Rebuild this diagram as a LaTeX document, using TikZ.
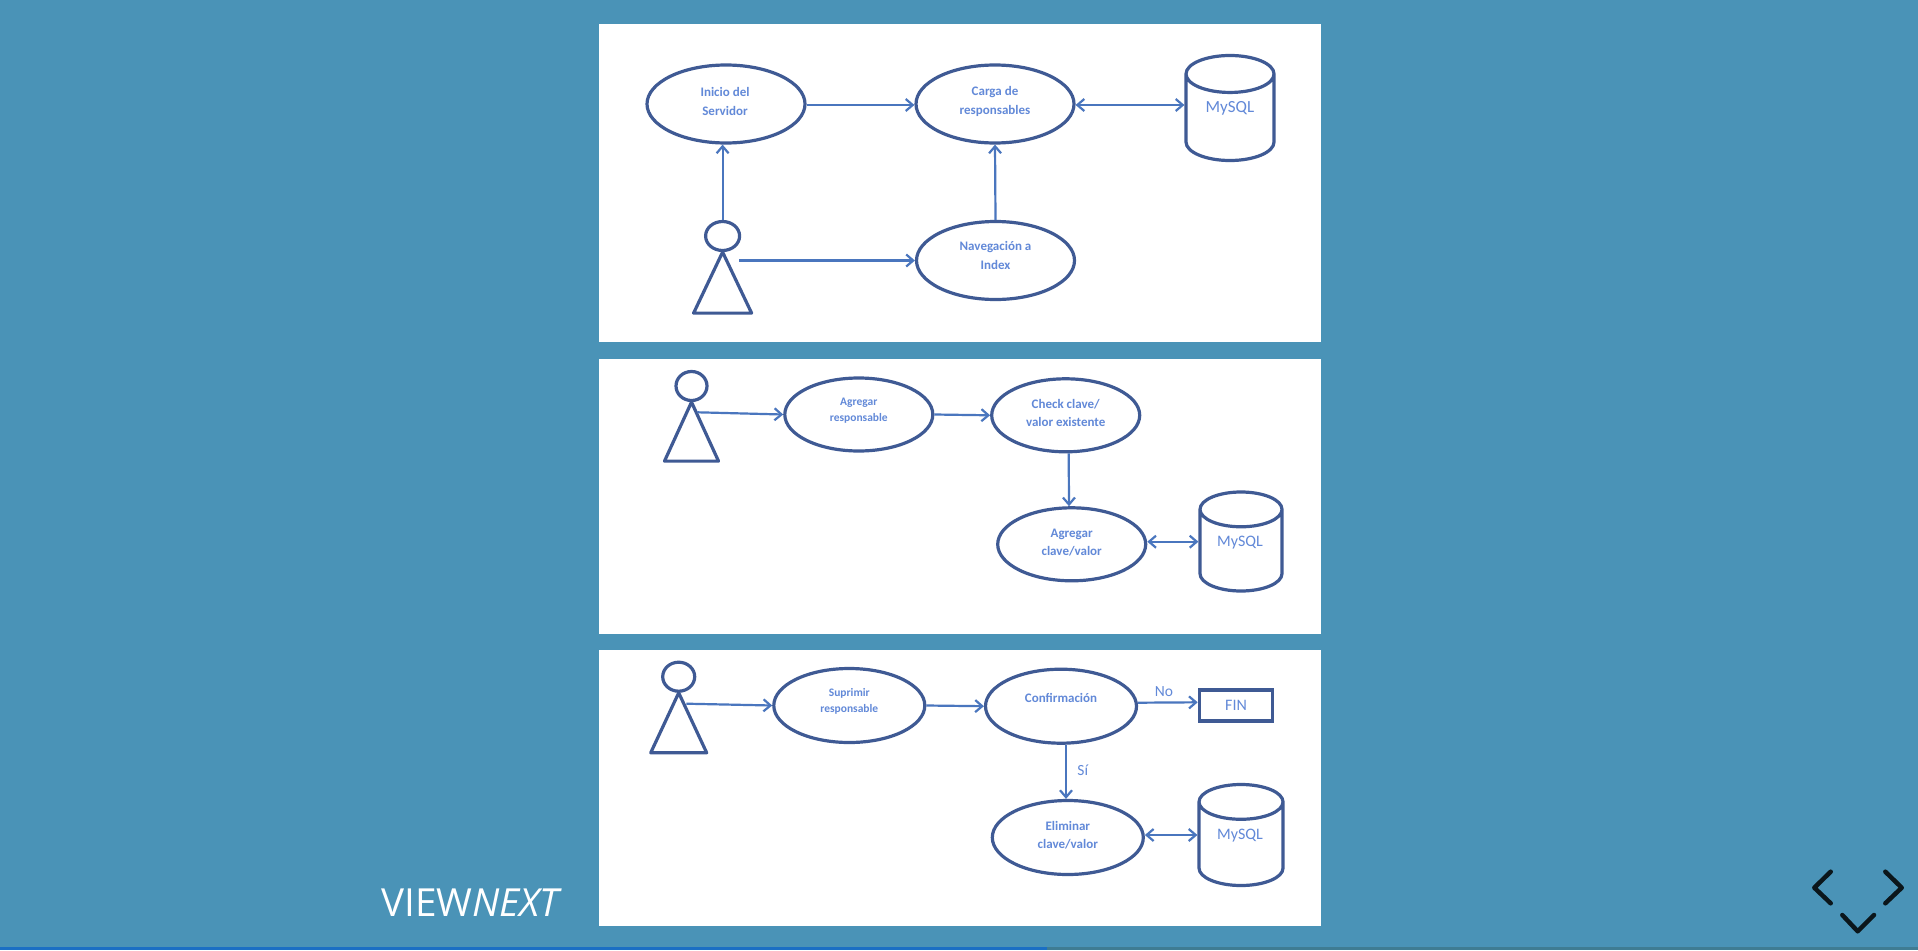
\documentclass[tikz,border=0pt]{standalone}
\usepackage{fontspec}
\setmainfont{Carlito}
\newfontfamily\brandfont{Open Sans}
\usetikzlibrary{arrows.meta,shapes.geometric}

\definecolor{slidebg}{HTML}{4A93B7}
\definecolor{shapeline}{HTML}{3F5A94}
\definecolor{connline}{HTML}{4A76BE}
\definecolor{labeltext}{HTML}{6289D8}
\definecolor{barblue}{HTML}{1B6FC4}
\definecolor{barteal}{HTML}{3F7C93}

\begin{document}
\begin{tikzpicture}[
  x=1pt, y=-1pt,
  usecase/.style={draw=shapeline, line width=3.2pt, ellipse, fill=white, inner sep=0pt, minimum width=158pt, minimum height=78pt},
  smallcase/.style={usecase, minimum width=148pt, minimum height=73pt},
  thirdcase/.style={usecase, minimum width=151pt, minimum height=74pt},
  head/.style={draw=shapeline, line width=3.2pt, ellipse, inner sep=0pt, minimum width=#1pt, minimum height=29pt},
  body/.style={draw=shapeline, line width=3.2pt, line join=round},
  db/.style={draw=shapeline, line width=3.2pt, cylinder, shape border rotate=90, aspect=.76, inner sep=0pt, anchor=shape center, font=\fontsize{#1}{20}\selectfont},
  dbtext/.style={text=labeltext, inner sep=0pt, font=\fontsize{#1}{20}\selectfont},
  arrow/.style={connline, line width=2.2pt, -{Straight Barb[length=7pt,width=12pt]}},
  twoway/.style={connline, line width=2.2pt, {Straight Barb[length=7pt,width=12pt]}-{Straight Barb[length=7pt,width=12pt]}},
  casetext/.style={font=\fontsize{13}{18.5}\selectfont\bfseries, text=labeltext, align=center},
  casesmall/.style={font=\fontsize{11.5}{16}\selectfont\bfseries, text=labeltext, align=center},
  condtext/.style={font=\fontsize{15.5}{18}\selectfont, text=labeltext},
  nav/.style={draw=black!85!slidebg, line width=4.5pt, line cap=round, line join=round}
]
  % Slide
  \fill[slidebg] (0,0) rectangle (1918,950);
  \fill[white] (599,24.5) rectangle (1321,341.5);
  \fill[white] (599,359) rectangle (1321,634);
  \fill[white] (599,650) rectangle (1321,926);
  \fill[barblue] (0,947) rectangle (1047,950);
  \fill[barteal] (1047,947) rectangle (1918,950);

  % Server start
  \node[usecase, label={[casetext,xshift=-1pt,yshift=2.7pt]center:{Inicio del\\Servidor}}] (inicio) at (726,104) {};
  \node[usecase, label={[casetext,yshift=2.7pt]center:{Carga de\\responsables}}] (carga) at (995,104) {};
  \node[usecase, label={[casetext,yshift=5pt]center:{Navegaci\'on a\\Index}}] (index) at (995.5,260.5) {};
  \node[db=17, minimum width=88pt, minimum height=105pt] (dbcarga) at (1230,108) {\phantom{MySQL}};
  \node[dbtext=17] (mysqlcarga) at (1230,108) {MySQL};
  \node[head=34] (actorcarga) at (722.6,236) {};
  \draw[body] (actorcarga.south) -- ++(-29,61) -- ++(58,0) -- cycle;
  \coordinate (actorcargaout) at (739,260.5);

  \draw[arrow] ([yshift=-1pt]inicio.east) -- ([yshift=-1pt]carga.west);
  \draw[twoway] ([yshift=-1pt]carga.east) -- ([yshift=-1pt]carga.east -| dbcarga.west);
  \draw[arrow] (actorcarga.north) -- (actorcarga.north |- inicio.south);
  \draw[arrow] (actorcargaout) -- (index.west);
  \draw[arrow] (index.north) -- (carga.south);

  % Add
  \node[smallcase, label={[casesmall,yshift=3.5pt]center:{Agregar\\responsable}}] (agregar) at (858.8,414.5) {};
  \node[smallcase, label={[casetext,yshift=2.5pt]center:{Check clave/\\valor existente}}] (check) at (1065.7,415.3) {};
  \node[smallcase, label={[casetext,yshift=1.5pt]center:{Agregar\\clave/valor}}] (agregarkv) at (1071.7,544.3) {};
  \node[db=16, minimum width=82pt, minimum height=99pt] (dbagregar) at (1241,541.5) {\phantom{MySQL}};
  \node[dbtext=16] (mysqlagregar) at (1240,542.5) {MySQL};
  \node[head=31] (actoragregar) at (691.5,386) {};
  \draw[body] (actoragregar.south) -- ++(-27,59) -- ++(54,0) -- cycle;
  \coordinate (actoragregarout) at (697.3,412.3);

  \draw[arrow] (actoragregarout) -- (agregar.west);
  \draw[arrow] (agregar.east) -- (check.west);
  \draw[arrow] ([xshift=3pt]check.south) -- ([xshift=-2.7pt]agregarkv.north);
  \draw[twoway] ([yshift=2.6pt]agregarkv.east) -- ([yshift=2.6pt]agregarkv.east -| dbagregar.west);

  % Delete
  \node[thirdcase, label={[casesmall,yshift=3.8pt]center:{Suprimir\\responsable}}] (suprimir) at (849.3,705.5) {};
  \node[thirdcase, label={[casetext,yshift=8pt]center:{Confirmaci\'on}}] (confirma) at (1061,706.2) {};
  \node[thirdcase, label={[casetext,yshift=2.2pt]center:{Eliminar\\clave/valor}}] (eliminar) at (1067.8,837.5) {};
  \node[draw=shapeline, line width=3.6pt, inner sep=0pt, minimum width=73pt, minimum height=31pt, text=labeltext, font=\fontsize{16}{20}\selectfont] (fin) at (1236,705.7) {FIN};
  \node[db=16, minimum width=84pt, minimum height=101pt] (dbeliminar) at (1241,835) {\phantom{MySQL}};
  \node[dbtext=16] (mysqleliminar) at (1240,835.8) {MySQL};
  \node[head=32] (actoreliminar) at (678.7,676.7) {};
  \draw[body] (actoreliminar.south) -- ++(-28,60) -- ++(56,0) -- cycle;
  \coordinate (actoreliminarout) at (686.3,703.7);

  \draw[arrow] (actoreliminarout) -- (suprimir.west);
  \draw[arrow] (suprimir.east) -- (confirma.west);
  \draw[arrow] ([yshift=3.5pt]confirma.east) -- node[condtext, above=1pt, xshift=-4pt] (no) {No} ([yshift=3.4pt]fin.west);
  \draw[arrow] ([xshift=5pt]confirma.south) -- node[condtext, right=7pt, yshift=1.5pt] (si) {S\'i} ([xshift=-1.8pt]eliminar.north);
  \draw[twoway] ([yshift=2.5pt]eliminar.east) -- ([yshift=2.5pt]eliminar.east -| dbeliminar.west);

  % Footer
  \node[text=white, inner sep=0pt, anchor=base west, font=\brandfont\fontsize{38.7}{40}\selectfont] (brand) at (381,916) {VIEW\textit{NEXT}};
  \draw[nav] (1830.7,871.7) -- (1814.3,887.7) -- (1830.7,903.3);
  \draw[nav] (1885.3,871.7) -- (1901.7,887.7) -- (1885.3,903.3);
  \draw[nav] (1842.3,915) -- (1857.7,931.3) -- (1874,915);
\end{tikzpicture}
\end{document}
